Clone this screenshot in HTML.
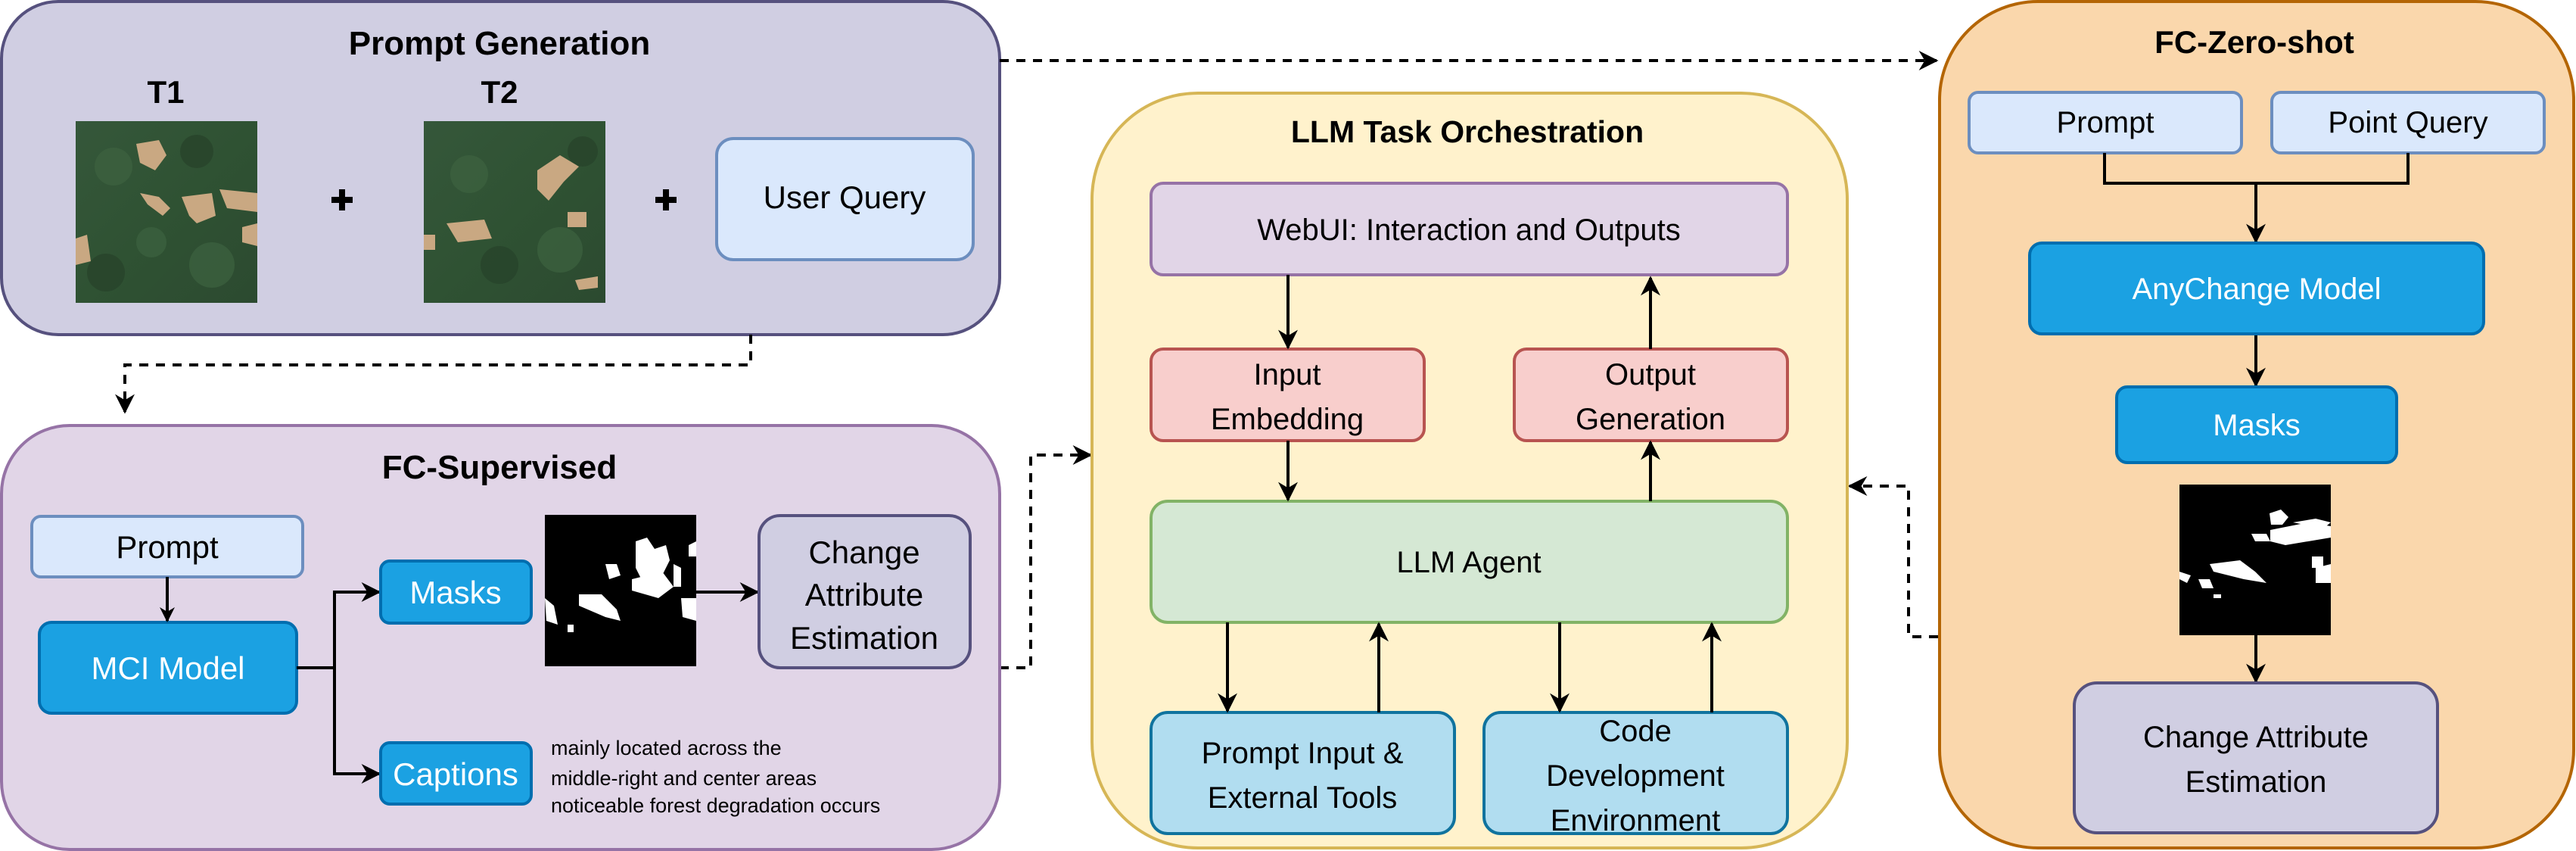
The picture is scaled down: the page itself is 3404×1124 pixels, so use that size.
<!DOCTYPE html>
<html><head><meta charset="utf-8"><style>
html,body{margin:0;padding:0;background:#fff;}
svg{display:block;}
text{font-family:"Liberation Sans",sans-serif;}
</style></head><body>
<svg width="3404" height="1124" viewBox="0 0 3404 1124" xmlns="http://www.w3.org/2000/svg">
<defs>
<marker id="ar" viewBox="0 0 20 20" refX="18" refY="10" markerWidth="20" markerHeight="20" markerUnits="userSpaceOnUse" orient="auto">
<path d="M0,0 L20,10 L0,20 L6,10 Z" fill="#000"/></marker>
<marker id="arb" viewBox="0 0 20 20" refX="18" refY="10" markerWidth="26" markerHeight="26" markerUnits="userSpaceOnUse" orient="auto">
<path d="M0,0 L20,10 L0,20 L6,10 Z" fill="#000"/></marker>
<linearGradient id="g1" x1="0" y1="0" x2="1" y2="1"><stop offset="0" stop-color="#35573a"/><stop offset="0.5" stop-color="#2f5233"/><stop offset="1" stop-color="#2c4a30"/></linearGradient>
</defs>

<!-- Prompt Generation -->
<rect x="2" y="2" width="1319" height="440" rx="75" fill="#d0cee2" stroke="#56517e" stroke-width="4"/>
<text x="660" y="72" font-size="44" font-weight="bold" text-anchor="middle">Prompt Generation</text>
<text x="219" y="136" font-size="42" font-weight="bold" text-anchor="middle">T1</text>
<text x="660" y="136" font-size="42" font-weight="bold" text-anchor="middle">T2</text>
<rect x="100" y="160" width="240" height="240" fill="url(#g1)"/>
<g fill="#3d6340" opacity="0.7"><circle cx="150" cy="220" r="25"/><circle cx="280" cy="350" r="30"/><circle cx="200" cy="320" r="20"/></g>
<g fill="#26422a" opacity="0.7"><circle cx="260" cy="200" r="22"/><circle cx="140" cy="360" r="25"/></g>
<path d="M180,190 l30,-5 l10,20 l-15,20 l-20,-10z M185,255 l25,5 l15,15 l-10,10 l-20,-15z M240,260 l40,-5 l5,30 l-25,10 l-10,-10z M290,250 l50,5 l0,25 l-40,-5z M100,315 l15,-5 l5,35 l-20,5z M320,300 l20,-5 l0,30 l-20,-5z" fill="#c9a882"/>
<rect x="560" y="160" width="240" height="240" fill="url(#g1)"/>
<g fill="#3d6340" opacity="0.7"><circle cx="620" cy="230" r="25"/><circle cx="740" cy="330" r="30"/></g>
<g fill="#26422a" opacity="0.7"><circle cx="660" cy="350" r="25"/><circle cx="770" cy="200" r="20"/></g>
<path d="M710,225 l30,-20 l25,15 l-20,20 l-20,25 l-15,-15z M590,295 l50,-5 l10,25 l-45,5z M750,280 l25,0 l0,20 l-25,0z M760,370 l30,-5 l0,15 l-25,3z M560,310 l15,0 l0,20 l-15,0z" fill="#c9a882"/>
<path d="M452,250 v28 M438,264 h28" stroke="#000" stroke-width="8"/>
<path d="M880,250 v28 M866,264 h28" stroke="#000" stroke-width="8"/>
<rect x="947" y="183" width="339" height="160" rx="22" fill="#dae8fc" stroke="#6c8ebf" stroke-width="4"/>
<text x="1116" y="275" font-size="42" text-anchor="middle">User Query</text>

<!-- dashed connectors -->
<path d="M992,442 V482 H165 V544" fill="none" stroke="#000" stroke-width="4" stroke-dasharray="12,10" marker-end="url(#arb)"/>
<path d="M1321,80 H2559" fill="none" stroke="#000" stroke-width="4" stroke-dasharray="12,10" marker-end="url(#arb)"/>
<path d="M1321,882 H1362 V601 H1441" fill="none" stroke="#000" stroke-width="4" stroke-dasharray="12,10" marker-end="url(#arb)"/>
<path d="M2561,841 H2522 V642 H2444" fill="none" stroke="#000" stroke-width="4" stroke-dasharray="12,10" marker-end="url(#arb)"/>

<!-- FC-Supervised -->
<rect x="2" y="562" width="1319" height="560" rx="90" fill="#e1d5e7" stroke="#9673a6" stroke-width="4"/>
<text x="660" y="632" font-size="44" font-weight="bold" text-anchor="middle">FC-Supervised</text>
<rect x="42" y="682" width="358" height="80" rx="12" fill="#dae8fc" stroke="#6c8ebf" stroke-width="4"/>
<text x="221" y="737" font-size="42" text-anchor="middle">Prompt</text>
<rect x="52" y="822" width="340" height="120" rx="16" fill="#1ba1e2" stroke="#006eaf" stroke-width="4"/>
<text x="222" y="897" font-size="42" text-anchor="middle" fill="#fff">MCI Model</text>
<line x1="221" y1="762" x2="221" y2="820" stroke="#000" stroke-width="4" marker-end="url(#ar)"/>
<path d="M392,882 H442 V782 H501 M442,882 V1022 H501" fill="none" stroke="#000" stroke-width="4"/>
<line x1="442" y1="782" x2="501" y2="782" stroke="#000" stroke-width="4" marker-end="url(#arb)"/>
<line x1="442" y1="1022" x2="501" y2="1022" stroke="#000" stroke-width="4" marker-end="url(#arb)"/>
<rect x="503" y="741" width="199" height="82" rx="12" fill="#1ba1e2" stroke="#006eaf" stroke-width="4"/>
<text x="602" y="797" font-size="42" text-anchor="middle" fill="#fff">Masks</text>
<rect x="503" y="981" width="199" height="81" rx="12" fill="#1ba1e2" stroke="#006eaf" stroke-width="4"/>
<text x="602" y="1037" font-size="42" text-anchor="middle" fill="#fff">Captions</text>
<rect x="720" y="680" width="200" height="200" fill="#000"/>
<path d="M840,715 l15,-5 l10,15 l15,-5 l5,20 l-10,20 l-25,10 l-10,-20z M800,745 l15,0 l5,15 l-15,5z M835,765 l40,-10 l15,20 l-20,15 l-35,-10z M890,745 l10,5 l0,25 l-10,0z M765,785 l30,0 l20,20 l5,15 l-20,-5 l-35,-15z M720,790 l12,10 l5,25 l-15,-5z M900,790 l20,0 l0,30 l-18,-5z M750,825 l8,0 l0,10 l-8,0z M910,720 l10,-5 l0,20 l-10,0z" fill="#fff"/>
<line x1="920" y1="782" x2="1001" y2="782" stroke="#000" stroke-width="4" marker-end="url(#arb)"/>
<rect x="1003" y="681" width="279" height="201" rx="28" fill="#d0cee2" stroke="#56517e" stroke-width="4"/>
<text x="1142" y="744" font-size="42" text-anchor="middle">Change</text>
<text x="1142" y="800" font-size="42" text-anchor="middle">Attribute</text>
<text x="1142" y="857" font-size="42" text-anchor="middle">Estimation</text>
<text x="728" y="997" font-size="27">mainly located across the</text>
<text x="728" y="1037" font-size="27">middle-right and center areas</text>
<text x="728" y="1073" font-size="27">noticeable forest degradation occurs</text>

<!-- LLM Task Orchestration -->
<rect x="1443" y="123" width="998" height="997" rx="140" fill="#fff2cc" stroke="#d6b656" stroke-width="4"/>
<text x="1939" y="188" font-size="41" font-weight="bold" text-anchor="middle">LLM Task Orchestration</text>
<rect x="1521" y="242" width="841" height="121" rx="16" fill="#e1d5e7" stroke="#9673a6" stroke-width="4"/>
<text x="1941" y="317" font-size="40" text-anchor="middle">WebUI: Interaction and Outputs</text>
<rect x="1521" y="461" width="361" height="121" rx="16" fill="#f8cecc" stroke="#b85450" stroke-width="4"/>
<text x="1701" y="508" font-size="40" text-anchor="middle">Input</text>
<text x="1701" y="567" font-size="40" text-anchor="middle">Embedding</text>
<rect x="2001" y="461" width="361" height="121" rx="16" fill="#f8cecc" stroke="#b85450" stroke-width="4"/>
<text x="2181" y="508" font-size="40" text-anchor="middle">Output</text>
<text x="2181" y="567" font-size="40" text-anchor="middle">Generation</text>
<rect x="1521" y="662" width="841" height="160" rx="22" fill="#d5e8d4" stroke="#82b366" stroke-width="4"/>
<text x="1941" y="756" font-size="40" text-anchor="middle">LLM Agent</text>
<rect x="1521" y="941" width="401" height="160" rx="22" fill="#b1ddf0" stroke="#10739e" stroke-width="4"/>
<text x="1721" y="1008" font-size="40" text-anchor="middle">Prompt Input &amp;</text>
<text x="1721" y="1067" font-size="40" text-anchor="middle">External Tools</text>
<rect x="1961" y="941" width="401" height="160" rx="22" fill="#b1ddf0" stroke="#10739e" stroke-width="4"/>
<text x="2161" y="979" font-size="40" text-anchor="middle">Code</text>
<text x="2161" y="1038" font-size="40" text-anchor="middle">Development</text>
<text x="2161" y="1097" font-size="40" text-anchor="middle">Environment</text>
<g stroke="#000" stroke-width="4" marker-end="url(#arb)">
<line x1="1702" y1="363" x2="1702" y2="459"/>
<line x1="1702" y1="582" x2="1702" y2="660"/>
<line x1="2181" y1="461" x2="2181" y2="367"/>
<line x1="2181" y1="662" x2="2181" y2="584"/>
<line x1="1622" y1="822" x2="1622" y2="939"/>
<line x1="1822" y1="941" x2="1822" y2="824"/>
<line x1="2061" y1="822" x2="2061" y2="939"/>
<line x1="2262" y1="941" x2="2262" y2="824"/>
</g>

<!-- FC-Zero-shot -->
<rect x="2563" y="2" width="838" height="1118" rx="130" fill="#fad7ac" stroke="#b46504" stroke-width="4"/>
<text x="2979" y="70" font-size="42" font-weight="bold" text-anchor="middle">FC-Zero-shot</text>
<rect x="2602" y="122" width="360" height="80" rx="12" fill="#dae8fc" stroke="#6c8ebf" stroke-width="4"/>
<text x="2782" y="175" font-size="40" text-anchor="middle">Prompt</text>
<rect x="3002" y="122" width="360" height="80" rx="12" fill="#dae8fc" stroke="#6c8ebf" stroke-width="4"/>
<text x="3182" y="175" font-size="40" text-anchor="middle">Point Query</text>
<path d="M2781,202 V242 H3182 V202" fill="none" stroke="#000" stroke-width="4"/>
<g stroke="#000" stroke-width="4" marker-end="url(#arb)">
<line x1="2981" y1="242" x2="2981" y2="319"/>
<line x1="2981" y1="441" x2="2981" y2="509"/>
<line x1="2981" y1="839" x2="2981" y2="900"/>
</g>
<rect x="2682" y="321" width="600" height="120" rx="16" fill="#1ba1e2" stroke="#006eaf" stroke-width="4"/>
<text x="2982" y="395" font-size="40" text-anchor="middle" fill="#fff">AnyChange Model</text>
<rect x="2797" y="511" width="370" height="100" rx="14" fill="#1ba1e2" stroke="#006eaf" stroke-width="4"/>
<text x="2982" y="575" font-size="40" text-anchor="middle" fill="#fff">Masks</text>
<rect x="2880" y="640" width="200" height="199" fill="#000"/>
<path d="M2999,678 l15,-5 l10,10 l-8,10 l-15,0z M2975,705 l20,0 l5,10 l-20,0z M3000,700 l50,-10 l30,5 l0,15 l-60,10 l-20,-5z M3030,690 l30,-5 l20,5 l-10,8z M3055,735 l15,0 l0,15 l-15,0z M2920,745 l40,-5 l20,15 l15,15 l-30,-5 l-40,-10z M2880,755 l15,5 l-5,10 l-10,-5z M2905,765 l15,0 l5,12 l-15,0z M2925,785 l10,0 l0,5 l-10,0z M3060,750 l20,-5 l0,25 l-20,0z" fill="#fff"/>
<rect x="2741" y="902" width="480" height="198" rx="30" fill="#d0cee2" stroke="#56517e" stroke-width="4"/>
<text x="2981" y="987" font-size="40" text-anchor="middle">Change Attribute</text>
<text x="2981" y="1046" font-size="40" text-anchor="middle">Estimation</text>
</svg>
</body></html>
